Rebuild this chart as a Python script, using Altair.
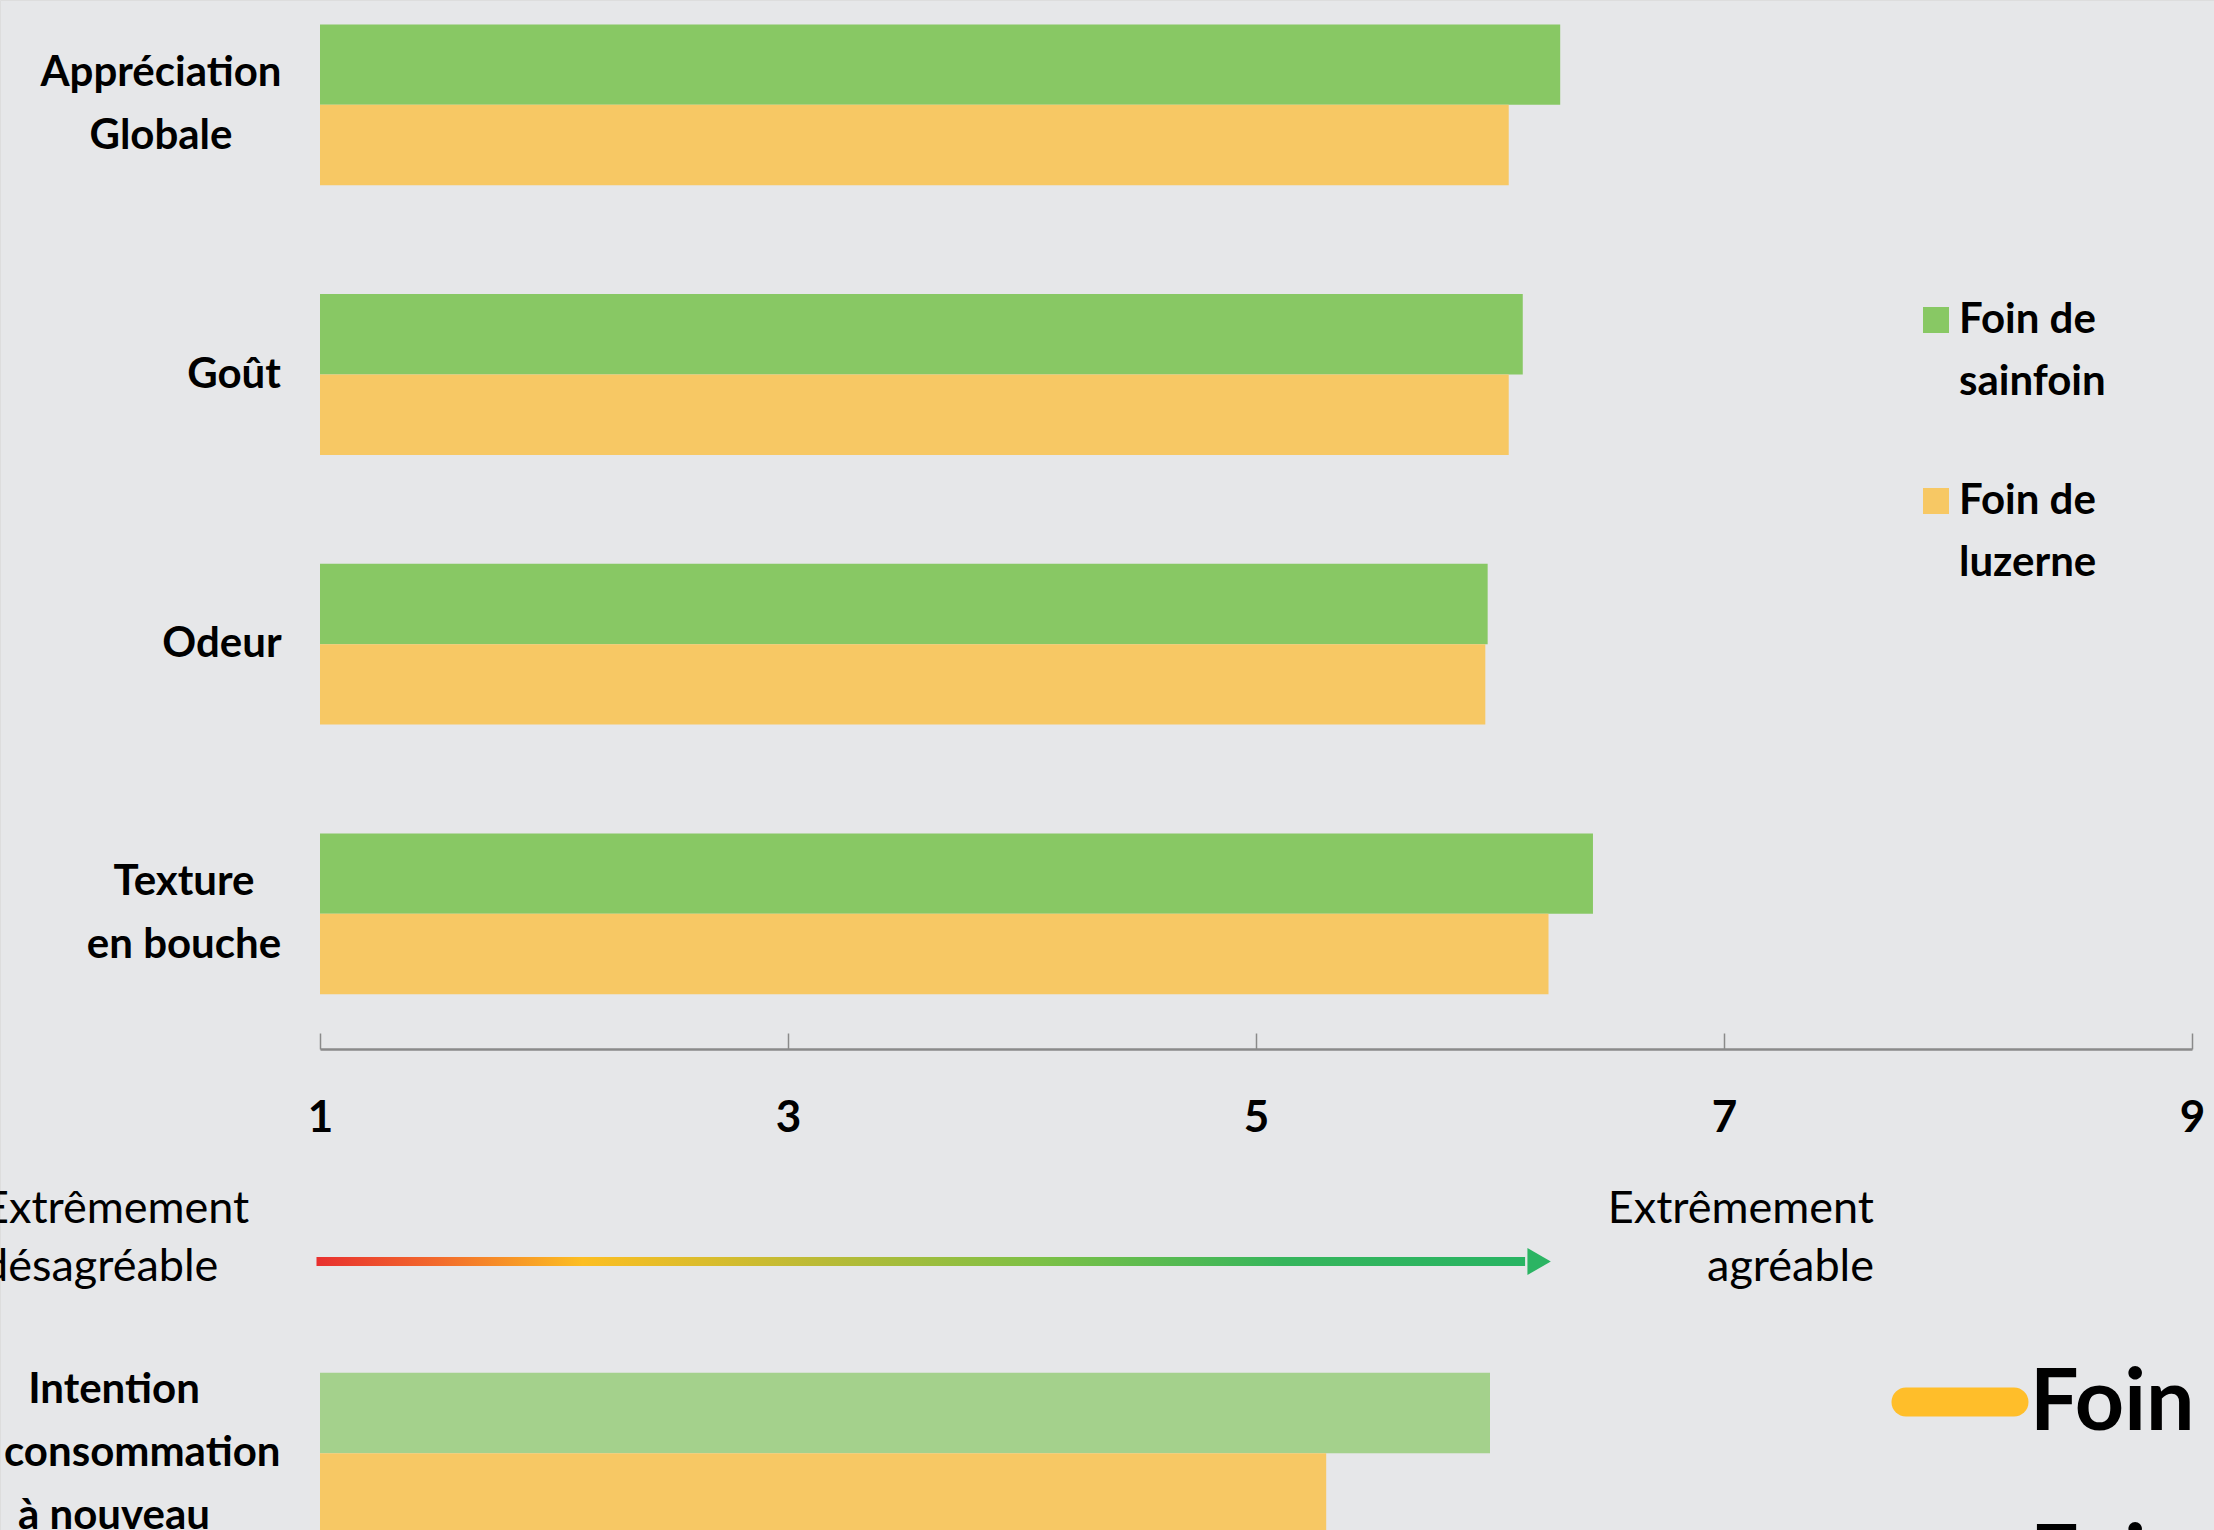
import altair as alt
import pandas as pd

# ---------------- data ----------------
categories = [
    "Appréciation\nGlobale",
    "Goût",
    "Odeur",
    "Texture\nen bouche",
    " ",
    "Intention\nde consommation\nà nouveau",
]
series_names = ["Foin de\nsainfoin", "Foin de\nluzerne"]
sainfoin_values = [6.30, 6.14, 5.99, 6.44, None, 6.00]
luzerne_values = [6.08, 6.08, 5.98, 6.25, None, 5.30]
x_ticks = [1, 3, 5, 7, 9]

rows = []
for cat, s, l in zip(categories, sainfoin_values, luzerne_values):
    if s is not None:
        rows.append({"category": cat, "series": series_names[0], "value": s})
    if l is not None:
        rows.append({"category": cat, "series": series_names[1], "value": l})
df = pd.DataFrame(rows)
label_df = pd.DataFrame({"category": categories})

arrow_df = pd.DataFrame([{"start": 0.985, "end": 6.15, "tip": 6.21}])

# ---------------- style ----------------
W, H = 2214, 1530
X_RANGE = [320, 2192]
Y_RANGE = [-30, 1588]
AXIS_Y = 1049
BG = "#E6E7E9"
GREEN = "#88C864"
ORANGE = "#F7C864"
FONT = "Lato"
LABEL_SIZE = 42
LINE_H = 63
# horizontal centre (px) of each centre-aligned category label, as in the reference
LABEL_CENTER = [161, 234, 222, 184, 234, 114]

x_scale = alt.Scale(domain=[1, 9], range=X_RANGE, nice=False, zero=False)
y_scale = alt.Scale(domain=categories, range=Y_RANGE, paddingInner=0, paddingOuter=0)

bars = alt.Chart(df).mark_bar(strokeWidth=0).encode(
    x=alt.X(
        "value:Q",
        scale=x_scale,
        axis=alt.Axis(
            orient="top", offset=-AXIS_Y, values=x_ticks, labels=False, title=None,
            grid=False, domainColor="#8A8A8A", domainWidth=2.5, tickColor="#8A8A8A",
            tickSize=16, tickWidth=1.5,
        ),
    ),
    x2=alt.datum(1),
    y=alt.Y(
        "category:N",
        scale=y_scale,
        sort=categories,
        axis=alt.Axis(
            orient="left", offset=-320, title=None, grid=False, labels=False,
            domainColor="#DCDDDF", domainWidth=1.5,
            tickBand="extent", tickColor="#D6D7D9", tickSize=14, tickWidth=2,
        ),
    ),
    yOffset=alt.YOffset(
        "series:N",
        scale=alt.Scale(domain=series_names, paddingInner=0, paddingOuter=0.677),
    ),
    color=alt.Color(
        "series:N",
        scale=alt.Scale(domain=series_names, range=[GREEN, ORANGE]),
        legend=alt.Legend(
            orient="none", legendX=1915, legendY=299, title=None,
            symbolType="square", symbolSize=676, symbolStrokeWidth=0, symbolOpacity=1,
            labelFont=FONT, labelFontSize=LABEL_SIZE, labelFontWeight="bold",
            labelColor="black", labelOffset=2, labelLimit=600,
            labelExpr="split(datum.label, '\\n')", rowPadding=77, padding=0,
        ),
    ),
    opacity=alt.condition(
        "indexof(datum.category, 'Intention') >= 0 && indexof(datum.series, 'sainfoin') >= 0",
        alt.value(0.7),
        alt.value(1),
    ),
)

# category labels (centre-aligned multi-line, like the original)
label_layers = []
for i, cat in enumerate(categories):
    if not cat.strip():
        continue
    n_lines = cat.count("\n") + 1
    label_layers.append(
        alt.Chart(label_df)
        .transform_filter(alt.datum.category == cat)
        .mark_text(
            align="center", baseline="middle", lineBreak="\n", lineHeight=LINE_H,
            font=FONT, fontSize=LABEL_SIZE, fontWeight="bold", color="black",
            dy=-(n_lines - 1) * LINE_H / 2,
        )
        .encode(
            y=alt.Y("category:N", axis=None),
            x=alt.value(LABEL_CENTER[i]),
            text="category:N",
        )
    )

gradient = alt.LinearGradient(
    gradient="linear", x1=0, x2=1, y1=0, y2=0,
    stops=[
        alt.GradientStop(color="#E8302F", offset=0),
        alt.GradientStop(color="#F26A2C", offset=0.1),
        alt.GradientStop(color="#FCBE22", offset=0.22),
        alt.GradientStop(color="#B9BA36", offset=0.42),
        alt.GradientStop(color="#7CC046", offset=0.6),
        alt.GradientStop(color="#36B55C", offset=0.8),
        alt.GradientStop(color="#28B463", offset=1),
    ],
)

shaft = alt.Chart(arrow_df).mark_rect(color=gradient).encode(
    x=alt.X(
        "start:Q",
        scale=x_scale,
        axis=alt.Axis(
            orient="bottom", offset=-(H - AXIS_Y), values=x_ticks, title=None, grid=False,
            domain=False, ticks=False, tickSize=0, labelPadding=47, labelFlush=False,
            labelFont=FONT, labelFontSize=LABEL_SIZE + 2, labelFontWeight="bold",
            labelColor="black",
        ),
    ),
    x2="end:Q",
    y=alt.value(1257),
    y2=alt.value(1266),
)

head = alt.Chart(arrow_df).mark_point(
    shape="triangle-right", filled=True, size=729, color="#2BB463", opacity=1, strokeWidth=0
).encode(
    x=alt.X("tip:Q", axis=None),
    y=alt.value(1261.5),
)

one = alt.Data(values=[{}])

left_text = alt.Chart(one).mark_text(
    align="left", baseline="middle", lineBreak="\n", lineHeight=58,
    font=FONT, fontSize=45, color="black",
).encode(x=alt.value(-17), y=alt.value(1209), text=alt.value("Extrêmement\ndésagréable"))

right_text = alt.Chart(one).mark_text(
    align="right", baseline="middle", lineBreak="\n", lineHeight=58,
    font=FONT, fontSize=45, color="black",
).encode(x=alt.value(1874), y=alt.value(1209), text=alt.value("Extrêmement\nagréable"))

line1 = alt.Chart(one).mark_rule(strokeWidth=29, strokeCap="round", color="#FFBE2A").encode(
    x=alt.value(1906), x2=alt.value(2014), y=alt.value(1402)
)
line2 = alt.Chart(one).mark_rule(strokeWidth=29, strokeCap="round", color="#88C864").encode(
    x=alt.value(1906), x2=alt.value(2014), y=alt.value(1558)
)
big1 = alt.Chart(one).mark_text(
    align="left", baseline="alphabetic", font=FONT, fontSize=86, fontWeight="bold", color="black"
).encode(x=alt.value(2030), y=alt.value(1430), text=alt.value("Foin"))
big2 = alt.Chart(one).mark_text(
    align="left", baseline="alphabetic", font=FONT, fontSize=86, fontWeight="bold", color="black"
).encode(x=alt.value(2030), y=alt.value(1586), text=alt.value("Foin"))

chart = (
    alt.layer(bars, *label_layers, shaft, head, left_text, right_text, line1, line2, big1, big2)
    .resolve_axis(x="independent")
    .properties(
        width=W, height=H, padding=0,
        autosize=alt.AutoSizeParams(type="none"),
        background=BG,
    )
    .configure_view(strokeWidth=0)
    .configure(style={"guide-label": {"lineHeight": 62}})
)

chart.save("out.html", embed_options={"renderer": "svg", "actions": False})
